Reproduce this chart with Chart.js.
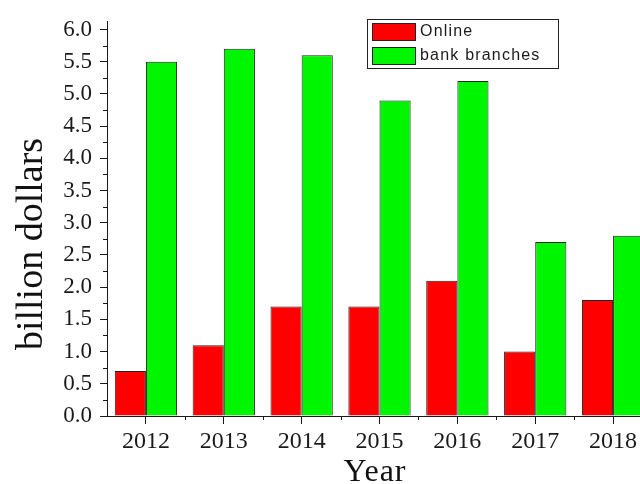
<!DOCTYPE html>
<html><head><meta charset="utf-8">
<script src="https://cdn.jsdelivr.net/npm/chart.js@4.4.1/dist/chart.umd.min.js"></script>
<style>html,body{margin:0;padding:0;background:#fff;overflow:hidden;width:640px;height:484px}canvas{display:block}</style>
</head><body><canvas id="c" width="660" height="484"></canvas>
<script>
const categories = ['2012','2013','2014','2015','2016','2017','2018'];
const onlineValues = [0.7, 1.1, 1.7, 1.7, 2.1, 1.0, 1.8];
const branchValues = [5.5, 5.7, 5.6, 4.9, 5.2, 2.7, 2.8];
const seriesNames = ['Online', 'bank branches'];
const yTicks = [0, 0.5, 1.0, 1.5, 2.0, 2.5, 3.0, 3.5, 4.0, 4.5, 5.0, 5.5, 6.0];
const yMinorTicks = [0.25, 0.75, 1.25, 1.75, 2.25, 2.75, 3.25, 3.75, 4.25, 4.75, 5.25, 5.75];
const xTitle = 'Year';
const yTitle = 'billion dollars';

const AXIS = '#1a1a1a';
const serif = '"Liberation Serif", "Times New Roman", serif';

const extras = {
  id: 'extras',
  afterDraw(chart) {
    const ctx = chart.ctx;
    const x = chart.scales.x, y = chart.scales.y;
    const ca = chart.chartArea;
    const o = chart.options.plugins.extras;
    ctx.save();
    ctx.strokeStyle = AXIS;
    ctx.lineWidth = 1;
    ctx.beginPath();
    yMinorTicks.forEach(v => {
      const py = Math.round(y.getPixelForValue(v)) + 0.5;
      ctx.moveTo(ca.left, py); ctx.lineTo(ca.left - 4, py);
    });
    for (let i = 0; i < categories.length - 1; i++) {
      const px = Math.round((x.getPixelForValue(i) + x.getPixelForValue(i + 1)) / 2) + 0.5;
      ctx.moveTo(px, ca.bottom); ctx.lineTo(px, ca.bottom + 4);
    }
    ctx.stroke();

    // axis titles
    ctx.fillStyle = '#111';
    ctx.textAlign = 'center';
    ctx.textBaseline = 'alphabetic';
    ctx.font = '32px ' + serif;
    try { ctx.letterSpacing = '1px'; } catch (e) {}
    ctx.fillText(xTitle, o.xTitleX, o.xTitleY);
    try { ctx.letterSpacing = '0px'; } catch (e) {}
    ctx.save();
    ctx.translate(o.yTitleX, o.yTitleY);
    ctx.rotate(-Math.PI / 2);
    ctx.font = '38px ' + serif;
    ctx.fillText(yTitle, 0, 0);
    ctx.restore();

    // legend box
    ctx.fillStyle = '#fff';
    ctx.fillRect(o.boxX, o.boxY, o.boxW, o.boxH);
    ctx.strokeStyle = '#222';
    ctx.strokeRect(o.boxX + 0.5, o.boxY + 0.5, o.boxW, o.boxH);
    ctx.font = '16px "Liberation Sans", Arial, sans-serif';
    ctx.textBaseline = 'middle';
    ctx.textAlign = 'left';
    try { ctx.letterSpacing = '1.2px'; } catch (e) {}
    chart.data.datasets.forEach((ds, i) => {
      const sy = o.boxY + 4 + i * 24;
      ctx.fillStyle = ds.backgroundColor;
      ctx.fillRect(o.boxX + 5, sy, 43, 17);
      ctx.strokeStyle = '#222';
      ctx.strokeRect(o.boxX + 5.5, sy + 0.5, 43, 17);
      ctx.fillStyle = '#1a1a1a';
      ctx.fillText(ds.label, o.boxX + 53, sy + 9);
    });
    ctx.restore();
  }
};

new Chart(document.getElementById('c'), {
  type: 'bar',
  data: {
    labels: categories,
    datasets: [
      { label: seriesNames[0], data: onlineValues, backgroundColor: '#ff0000', borderColor: '#222222', borderWidth: 1 },
      { label: seriesNames[1], data: branchValues, backgroundColor: '#00f500', borderColor: '#222222', borderWidth: 1 }
    ]
  },
  options: {
    responsive: false,
    animation: false,
    devicePixelRatio: 1,
    categoryPercentage: 0.8,
    barPercentage: 1.0,
    layout: { padding: { top: 17, right: 8, left: 0, bottom: 0 } },
    plugins: {
      legend: { display: false },
      tooltip: { enabled: false },
      extras: { boxX: 367, boxY: 19, boxW: 191, boxH: 49, xTitleX: 375, xTitleY: 481, yTitleX: 42, yTitleY: 244 }
    },
    scales: {
      x: {
        offset: true,
        grid: { display: true, drawOnChartArea: false, offset: false, tickLength: 8, color: AXIS, tickColor: AXIS },
        border: { display: true, color: AXIS, width: 1 },
        ticks: { color: '#1a1a1a', font: { family: serif, size: 24 }, padding: 3, maxRotation: 0 },
        afterFit(s) { s.height = 68; }
      },
      y: {
        min: 0, max: 6.12,
        afterBuildTicks(s) { s.ticks = yTicks.map(v => ({ value: v })); },
        grid: { display: true, drawOnChartArea: false, tickLength: 7, color: AXIS, tickColor: AXIS },
        border: { display: true, color: AXIS, width: 1 },
        ticks: { color: '#1a1a1a', font: { family: serif, size: 23 }, padding: 8, callback: v => Number(v).toFixed(1) },
        afterFit(s) { s.width = 107; }
      }
    }
  },
  plugins: [extras]
});
</script>
</body></html>
